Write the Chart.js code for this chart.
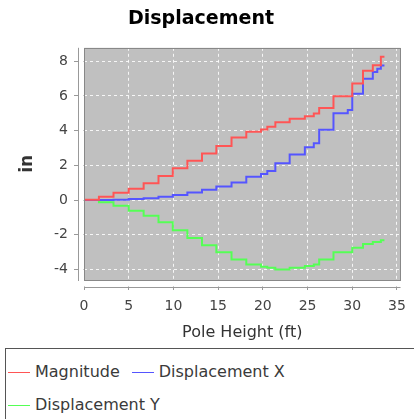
<!DOCTYPE html>
<html>
<head>
<meta charset="utf-8">
<script src="https://cdn.jsdelivr.net/npm/chart.js@4/dist/chart.umd.min.js"></script>
<style>
  body { margin: 0; background: #fff; overflow: hidden; width: 414px; height: 419px; position: relative; }
  #chart { display: block; }
  #legend {
    position: absolute; left: 5px; top: 348px; width: 430px; height: 80px;
    border: 1px solid #555; box-sizing: border-box; padding-top: 6px;
    font: 16px "DejaVu Sans", sans-serif; color: #3a3a3a;
  }
  .row { height: 33px; line-height: 33px; white-space: nowrap; }
  .swatch { display: inline-block; width: 22px; height: 1px; vertical-align: middle; margin-left: 2px; margin-right: 5px; }
  .item + .item { margin-left: 10px; }
</style>
</head>
<body>
<canvas id="chart" width="414" height="345"></canvas>
<div id="legend"></div>
<script>
// pole height (ft) where each step starts
var heights = [0, 1.67, 3.3, 5.0, 6.67, 8.33, 9.93, 11.56, 13.2, 14.8, 16.5, 18.15, 19.8, 20.5, 21.4, 23.0, 24.7, 25.7, 26.3, 27.9, 29.5, 30.0, 31.2, 32.3, 32.8, 33.2, 33.6];
var magnitude = [0, 0.02, 0.2, 0.42, 0.65, 0.97, 1.39, 1.83, 2.27, 2.69, 3.11, 3.61, 3.93, 4.07, 4.22, 4.49, 4.68, 4.83, 4.98, 5.3, 5.98, 5.98, 6.72, 7.45, 7.77, 7.77, 8.25];
var displacementX = [0, 0, 0, 0.02, 0.06, 0.1, 0.2, 0.3, 0.44, 0.59, 0.78, 1.01, 1.35, 1.51, 1.68, 2.12, 2.62, 3.04, 3.28, 4.05, 5.0, 5.19, 6.13, 6.99, 7.37, 7.56, 7.75];
var displacementY = [0, 0, -0.13, -0.33, -0.61, -0.9, -1.28, -1.74, -2.18, -2.6, -3.0, -3.42, -3.71, -3.84, -3.9, -3.99, -3.9, -3.8, -3.71, -3.42, -3.0, -3.0, -2.75, -2.52, -2.41, -2.41, -2.31];

var seriesNames = ['Magnitude', 'Displacement X', 'Displacement Y'];
var seriesColors = ['#ff5555', '#5555ff', '#55ff55'];
var legendRows = [[0, 1], [2]];

function points(values) {
  return heights.map(function (h, i) { return { x: h, y: values[i] }; });
}

// grey plot background, outline, and axis lines set off from the plot
var plotFrame = {
  id: 'plotFrame',
  beforeDraw: function (chart) {
    var a = chart.chartArea, ctx = chart.ctx;
    ctx.save();
    ctx.fillStyle = '#c0c0c0';
    ctx.fillRect(a.left, a.top, a.right - a.left, a.bottom - a.top);
    ctx.restore();
  },
  afterDraw: function (chart) {
    var a = chart.chartArea, ctx = chart.ctx;
    ctx.save();
    ctx.fillStyle = '#fff';
    ctx.fillRect(a.left - 5.5, a.top - 2, 5, a.bottom - a.top + 12);
    ctx.fillRect(a.left - 6, a.bottom + 0.5, a.right - a.left + 8, 6);
    ctx.strokeStyle = '#888';
    ctx.lineWidth = 1;
    ctx.strokeRect(Math.round(a.left) + 0.5, Math.round(a.top) + 0.5, Math.round(a.right - a.left) - 1, Math.round(a.bottom - a.top));
    ctx.strokeStyle = '#999';
    ctx.beginPath();
    ctx.moveTo(Math.round(a.left) - 5.5, a.top);
    ctx.lineTo(Math.round(a.left) - 5.5, a.bottom + 1);
    ctx.moveTo(a.left, Math.round(a.bottom) + 7.5);
    ctx.lineTo(a.right, Math.round(a.bottom) + 7.5);
    ctx.stroke();
    ctx.restore();
  }
};

var ctx = document.getElementById('chart').getContext('2d');

var displacementChart = new Chart(ctx, {
  type: 'line',
  data: {
    datasets: [magnitude, displacementX, displacementY].map(function (values, i) {
      return {
        label: seriesNames[i],
        data: points(values),
        borderColor: seriesColors[i],
        backgroundColor: seriesColors[i],
        borderWidth: 2,
        pointRadius: 0,
        fill: false,
        stepped: 'after'
      };
    })
  },
  options: {
    responsive: false,
    animation: false,
    layout: { padding: { left: 0, right: 12, top: 0, bottom: 0 } },
    plugins: {
      legend: { display: false },
      tooltip: { enabled: false },
      title: {
        display: true,
        text: 'Displacement',
        color: '#000',
        font: { family: 'DejaVu Sans', size: 19, weight: 'bold' },
        padding: { top: 8, bottom: 17 }
      }
    },
    scales: {
      x: {
        type: 'linear',
        position: 'bottom',
        min: 0,
        max: 35.4,
        afterFit: function (scale) { scale.height = 65; },
        ticks: { stepSize: 5, includeBounds: false, padding: 8, color: '#444', font: { family: 'DejaVu Sans', size: 14 } },
        grid: { color: 'rgba(255,255,255,0.85)', lineWidth: 1, tickLength: 10, tickColor: '#999' },
        border: { display: false, dash: [3, 3] },
        title: { display: true, text: 'Pole Height (ft)', color: '#333', font: { family: 'DejaVu Sans', size: 16 }, padding: { top: 0, bottom: 3 } }
      },
      y: {
        type: 'linear',
        min: -4.6,
        max: 8.77,
        afterFit: function (scale) { scale.width = 84; },
        ticks: { stepSize: 2, includeBounds: false, padding: 6, color: '#444', font: { family: 'DejaVu Sans', size: 14 } },
        grid: { color: 'rgba(255,255,255,0.85)', lineWidth: 1, tickLength: 10, tickColor: '#999' },
        border: { display: false, dash: [3, 3] },
        title: { display: true, text: 'in', color: '#333', font: { family: 'DejaVu Sans', size: 17, weight: 'bold' }, padding: { top: 17, bottom: 0 } }
      }
    }
  },
  plugins: [plotFrame]
});

// legend below the chart, boxed like the original
var legend = document.getElementById('legend');
legendRows.forEach(function (row) {
  var div = document.createElement('div');
  div.className = 'row';
  row.forEach(function (i) {
    var item = document.createElement('span');
    item.className = 'item';
    var sw = document.createElement('span');
    sw.className = 'swatch';
    sw.style.background = seriesColors[i];
    item.appendChild(sw);
    item.appendChild(document.createTextNode(seriesNames[i]));
    div.appendChild(item);
  });
  legend.appendChild(div);
});
</script>
</body>
</html>
